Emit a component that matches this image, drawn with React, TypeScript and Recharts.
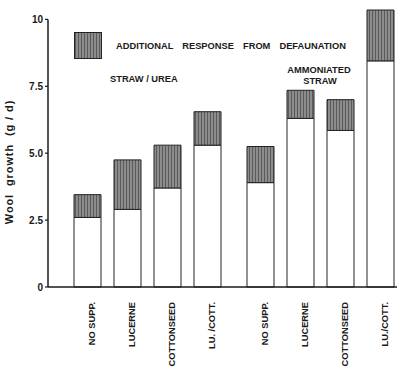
import React from "react";
import { BarChart, Bar, XAxis, YAxis, ReferenceLine } from "recharts";

// straw / urea group
const strawLabels = ["NO SUPP.", "LUCERNE", "COTTONSEED", "LU. /COTT."];
const strawBase = [2.6, 2.9, 3.7, 5.3];
const strawTotal = [3.45, 4.75, 5.3, 6.55];

// ammoniated straw group
const ammLabels = ["NO SUPP.", "LUCERNE", "COTTONSEED", "LU./COTT."];
const ammBase = [3.9, 6.3, 5.85, 8.45];
const ammTotal = [5.25, 7.35, 7.0, 10.35];

const yTicks = [0, 2.5, 5, 7.5, 10];
const yTickLabels = ["0", "2.5", "5.0", "7.5", "10"];

const GROUP_GAP = 0.325;
const FONT = "'Liberation Sans', Arial, sans-serif";
const INK = "#1a1a1a";

const rows = [
    ...strawLabels.map((label, i) => ({
        pos: i + 1,
        label,
        base: strawBase[i],
        response: +(strawTotal[i] - strawBase[i]).toFixed(2),
    })),
    ...ammLabels.map((label, i) => ({
        pos: i + 5 + GROUP_GAP,
        label,
        base: ammBase[i],
        response: +(ammTotal[i] - ammBase[i]).toFixed(2),
    })),
];

const positions = rows.map((r) => r.pos);

function RotatedTick(props: any) {
    const { x, y, payload } = props;
    const row = rows.find((r) => Math.abs(r.pos - payload.value) < 0.01);
    const tx = x + 6.5;
    const ty = y + 7;
    return (
        <text
            x={tx}
            y={ty}
            transform={`rotate(-90 ${tx} ${ty})`}
            textAnchor="end"
            fontSize={9.3}
            fontWeight="bold"
            fontFamily={FONT}
            fill={INK}
        >
            {row ? row.label : ""}
        </text>
    );
}

export default function App() {
    return (
        <div style={{ position: "absolute", left: 0, top: 0, width: 400, height: 373, background: "#fff", fontFamily: FONT }}>
            <BarChart
                width={400}
                height={373}
                data={rows}
                margin={{ top: 6, right: 3, left: 0, bottom: 0 }}
            >
                <defs>
                    <pattern id="hatch" width="3" height="4" patternUnits="userSpaceOnUse">
                        <rect width="3" height="4" fill="#8c8c8c" />
                        <rect width="1" height="4" fill="#5a5a5a" />
                    </pattern>
                </defs>
                <XAxis
                    dataKey="pos"
                    type="number"
                    domain={[0, 8.725]}
                    ticks={positions}
                    interval={0}
                    tick={<RotatedTick />}
                    tickLine={false}
                    axisLine={{ stroke: INK, strokeWidth: 1.5 }}
                    height={86}
                />
                <YAxis
                    type="number"
                    domain={[0, 10.5]}
                    ticks={yTicks}
                    tickFormatter={(v: number) => yTickLabels[yTicks.indexOf(v)] ?? ""}
                    width={48}
                    axisLine={false}
                    tickLine={{ stroke: INK, strokeWidth: 1.2 }}
                    tickSize={3}
                    tick={{ fontSize: 10, fontWeight: "bold", fill: INK, fontFamily: FONT }}
                />
                <ReferenceLine
                    segment={[{ x: 0, y: 0 }, { x: 0, y: 10 }]}
                    stroke={INK}
                    strokeWidth={1.5}
                />
                <Bar dataKey="base" stackId="a" fill="#fff" stroke="#222" strokeWidth={1} barSize={27} isAnimationActive={false} />
                <Bar dataKey="response" stackId="a" fill="url(#hatch)" stroke="#222" strokeWidth={1} barSize={27} isAnimationActive={false} />
            </BarChart>
            <svg
                width={400}
                height={373}
                style={{ position: "absolute", left: 0, top: 0, pointerEvents: "none" }}
            >
                <defs>
                    <pattern id="hatchLegend" width="3" height="4" patternUnits="userSpaceOnUse">
                        <rect width="3" height="4" fill="#8c8c8c" />
                        <rect width="1" height="4" fill="#5a5a5a" />
                    </pattern>
                </defs>
                <rect x={74.5} y={32.5} width={27} height={26} fill="url(#hatchLegend)" stroke="#222" strokeWidth={1} />
                <text x={116} y={49} fontSize={9.3} fontWeight="bold" fontFamily={FONT} fill={INK} wordSpacing={6.5}>
                    ADDITIONAL RESPONSE FROM DEFAUNATION
                </text>
                <text x={110} y={82} fontSize={9.3} fontWeight="bold" fontFamily={FONT} fill={INK}>
                    STRAW / UREA
                </text>
                <text x={319} y={73} fontSize={9.3} fontWeight="bold" fontFamily={FONT} fill={INK} textAnchor="middle">
                    AMMONIATED
                </text>
                <text x={320} y={83.5} fontSize={9.3} fontWeight="bold" fontFamily={FONT} fill={INK} textAnchor="middle">
                    STRAW
                </text>
                <text
                    x={13}
                    y={162}
                    transform="rotate(-90 13 162)"
                    textAnchor="middle"
                    fontSize={11}
                    fontWeight="bold"
                    letterSpacing={0.9}
                    fontFamily={FONT}
                    fill={INK}
                    style={{ whiteSpace: "pre" }}
                >
                    {"Wool  growth  (g / d)"}
                </text>
            </svg>
        </div>
    );
}
